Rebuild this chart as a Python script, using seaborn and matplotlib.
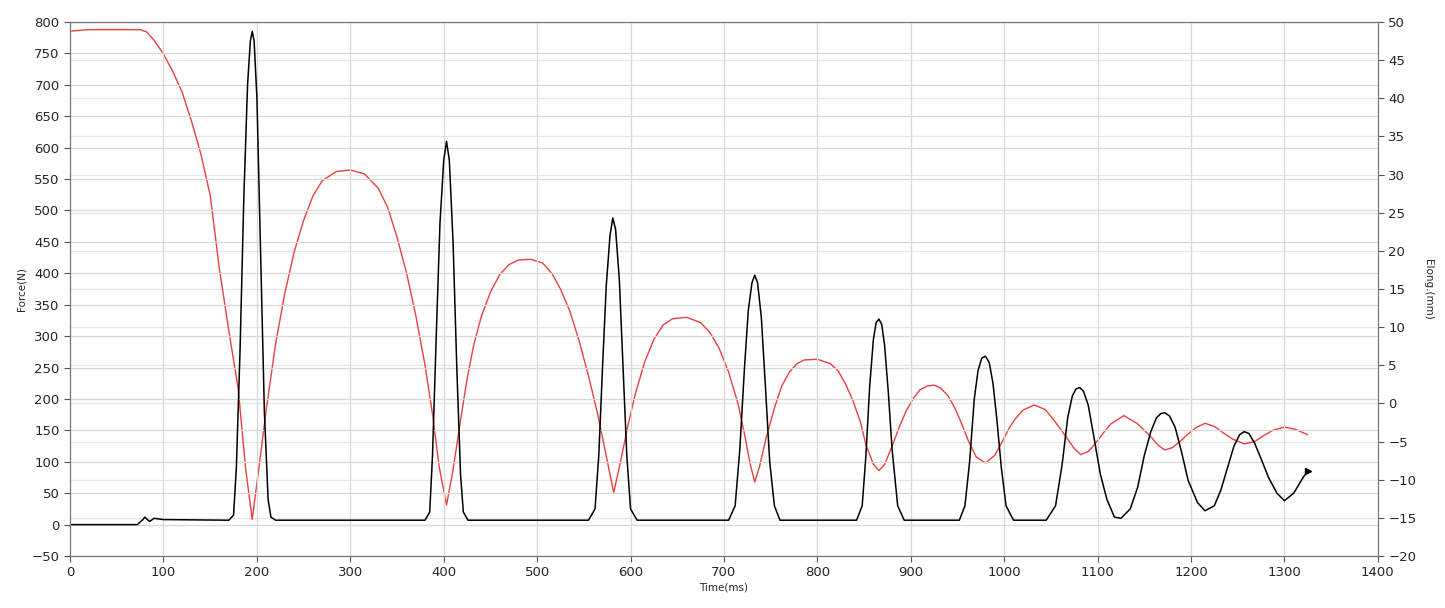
import matplotlib
matplotlib.use("Agg")
import matplotlib.pyplot as plt
import seaborn as sns
import pandas as pd

# Elongation (mm), right axis
elong_t = [0,20,75,82,90,100,110,120,130,140,150,160,170,180,188,195,202,210,220,230,240,250,260,270,285,300,315,330,340,350,360,370,380,388,395,403,410,418,425,432,440,450,460,470,480,493,506,516,525,535,545,555,565,575,582,589,597,605,615,625,635,645,660,675,685,695,705,715,722,728,733,738,745,755,762,770,778,786,800,814,822,830,838,846,852,860,866,872,880,888,895,903,910,918,925,932,940,948,955,962,970,980,990,998,1005,1012,1020,1032,1044,1052,1060,1068,1075,1082,1090,1098,1106,1114,1128,1142,1150,1158,1165,1172,1180,1188,1196,1205,1215,1225,1235,1245,1257,1268,1278,1288,1300,1312,1325]
elong_v = [48.8,49.0,49.0,48.7,47.6,45.8,43.5,40.8,37,32.7,27.3,17.5,9.5,1.9,-8.6,-15.2,-8.6,-0.8,7.8,14.5,19.9,24,27.2,29.2,30.4,30.6,30.1,28.2,25.7,21.8,17.2,11.6,5,-1.4,-8.2,-13.3,-8.7,-2.2,3.2,7.6,11.3,14.6,16.9,18.2,18.8,18.9,18.4,17,15,12.1,8.2,3.6,-1.5,-7.5,-11.7,-7.8,-3,1.2,5.4,8.4,10.3,11.1,11.3,10.6,9.3,7.2,4.1,0,-4,-7.9,-10.3,-8.3,-4.6,-0.2,2.3,4.1,5.2,5.7,5.8,5.2,4.3,2.6,0.4,-2.4,-5.4,-8,-8.8,-8,-5.6,-3,-1,0.7,1.8,2.3,2.4,2,1,-0.8,-2.8,-5,-7,-7.8,-6.8,-5,-3.3,-2,-0.9,-0.2,-0.8,-2,-3.3,-4.7,-5.9,-6.7,-6.3,-5.2,-3.9,-2.7,-1.6,-2.6,-3.5,-4.5,-5.5,-6.1,-5.8,-5,-4.1,-3.2,-2.6,-3,-3.9,-4.7,-5.3,-5,-4.2,-3.5,-3.1,-3.4,-4.1]

# Force (N), left axis
force_t = [0,72,78,80,85,90,100,170,175,178,182,186,190,193,195,197,200,204,208,212,215,220,380,385,388,392,396,400,403,406,410,414,418,421,426,555,562,566,570,574,578,581,584,588,592,596,600,607,705,712,717,722,726,730,733,736,740,744,749,754,760,842,848,852,856,860,863,866,869,872,876,880,886,893,952,958,963,968,972,976,980,984,988,992,997,1002,1010,1045,1055,1062,1068,1073,1077,1081,1085,1090,1096,1103,1110,1118,1125,1135,1143,1150,1157,1163,1168,1172,1177,1183,1190,1197,1207,1215,1225,1232,1240,1246,1252,1257,1262,1268,1275,1283,1292,1300,1310,1320,1325]
force_v = [0,0,8,12,5,10,8,7,15,90,280,520,700,770,785,770,680,430,180,40,12,7,7,20,110,300,480,580,610,580,450,250,80,20,7,7,25,110,250,380,460,488,470,390,250,110,25,7,7,30,120,250,340,385,397,385,330,230,100,30,7,7,30,110,220,295,322,327,318,285,210,120,30,7,7,30,100,200,245,265,268,258,225,170,90,30,7,7,30,95,170,205,216,218,212,190,140,80,40,12,10,25,60,110,148,170,177,178,173,155,115,70,35,22,30,55,95,125,143,148,145,130,105,75,50,38,50,75,85]

sns.set_style("white")
plt.rcParams['font.family'] = ['DejaVu Sans']
fig = plt.figure(figsize=(14.45, 6.08), dpi=100)
ax = fig.add_axes([0.0485, 0.0855, 0.905, 0.8783])
ax2 = ax.twinx()

df_e = pd.DataFrame({"t": elong_t, "v": elong_v})
df_f = pd.DataFrame({"t": force_t, "v": force_v})

sns.lineplot(data=df_e, x="t", y="v", ax=ax2, color="#e8403f", lw=1.0)
sns.lineplot(data=df_f, x="t", y="v", ax=ax, color="black", lw=1.1)
ax.plot([force_t[-1]], [force_v[-1]], marker=">", color="black", ms=5)

ax.set_xlim(0, 1400)
ax.set_ylim(-50, 800)
ax2.set_ylim(-20, 50)
ax.set_xticks(range(0, 1401, 100))
ax.set_yticks(range(-50, 801, 50))
ax2.set_yticks(range(-20, 51, 5))
ax.grid(True, color="#d8d8d8", lw=0.9)
ax2.grid(True, axis="y", color="#e6e6e6", lw=0.9)
ax.set_axisbelow(True)
ax2.set_zorder(ax.get_zorder() - 1)
ax.patch.set_visible(False)

for a in (ax, ax2):
    a.tick_params(labelsize=9.5, length=4, color="#555555", direction="out")
    for s in a.spines.values():
        s.set_color("#777777")
ax.tick_params(left=True, bottom=True)
ax2.tick_params(right=True)
ax.set_xlabel("Time(ms)", fontsize=7.5, labelpad=2)
ax.set_ylabel("Force(N)", fontsize=7.5)
ax2.set_ylabel("Elong.(mm)", fontsize=7.5, rotation=270, labelpad=12)

fig.savefig("out.png", dpi=100)
